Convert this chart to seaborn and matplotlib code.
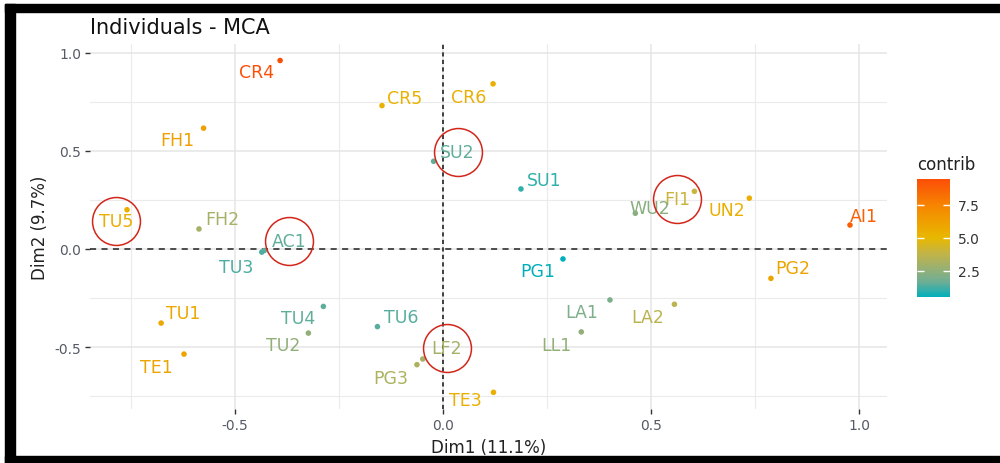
import numpy as np
import pandas as pd
import seaborn as sns
import matplotlib.pyplot as plt
from matplotlib.colors import LinearSegmentedColormap, Normalize
from matplotlib.cm import ScalarMappable
from matplotlib.patches import Rectangle
from matplotlib.transforms import offset_copy

# Individus (MCA) - coordonnées
labels = ["CR4", "CR5", "CR6", "FH1", "SU2", "TU5", "FH2", "SU1", "FI1",
          "WU2", "UN2", "AI1", "AC1", "TU3", "TU1", "TE1", "TU4", "TU2",
          "TU6", "LF2", "PG3", "TE3", "PG1", "PG2", "LA1", "LA2", "LL1"]
dim1 = [-0.392, -0.147, 0.120, -0.576, -0.023, -0.760, -0.587, 0.187, 0.604,
        0.462, 0.736, 0.978, -0.430, -0.436, -0.678, -0.623, -0.288, -0.324,
        -0.158, -0.049, -0.063, 0.121, 0.288, 0.788, 0.401, 0.556, 0.332]
dim2 = [0.961, 0.731, 0.842, 0.616, 0.447, 0.200, 0.102, 0.306, 0.294,
        0.182, 0.259, 0.122, -0.008, -0.016, -0.378, -0.536, -0.293, -0.429,
        -0.396, -0.561, -0.590, -0.731, -0.051, -0.150, -0.260, -0.282, -0.423]
contrib = [9.45, 5.3, 5.4, 6.2, 1.5, 5.5, 3.0, 1.0, 4.0,
           2.3, 5.4, 8.8, 1.5, 1.3, 5.8, 6.0, 1.5, 2.5,
           1.4, 3.0, 3.2, 5.4, 0.5, 6.0, 2.0, 3.6, 2.5]
circled = ["TU5", "SU2", "AC1", "FI1", "LF2"]

# décalage des étiquettes en pixels (dx vers la droite, dy vers le bas), comme ggrepel
label_dx = [-24, 23, -24, -26, 24, -11, 23, 23, -17, 14, -22, 14, 25, -26,
            22.5, -28, -25, -25, 24, 24, -26, -28, -25, 22, -28.5, -27, -25]
label_dy = [12, -8, 13.5, 12, -9, 11, -10, -9, 8, -5, 12, -9, -10, 14.5,
            -10, 12.5, 12, 11.5, -10, -10.5, 13, 8, 12, -10, 12.5, 13, 13]

df = pd.DataFrame({"label": labels, "Dim1": dim1, "Dim2": dim2, "contrib": contrib})

# dégradé #00AFBB -> #E7B800 -> #FC4E07, interpolé à peu près comme ggplot (espace Lab)
cmap = LinearSegmentedColormap.from_list("contrib", [
    (0.0, "#00AFBB"), (0.125, "#6DAE96"), (0.25, "#9BB070"), (0.375, "#C4B444"),
    (0.5, "#E7B800"), (0.75, "#F58B00"), (1.0, "#FC4E07")])
norm = Normalize(vmin=0.5, vmax=9.45)

plt.rcParams['font.family'] = ['DejaVu Sans']
fig = plt.figure(figsize=(10, 4.64), dpi=100)
fig.patch.set_facecolor('white')
ax = fig.add_axes([0.09, 0.1164, 0.797, 0.787])

# grille façon theme_minimal
for v in [-0.75, -0.25, 0.25, 0.75]:
    ax.axvline(v, color='#EBEBEB', lw=0.8, zorder=0)
    ax.axhline(v, color='#EBEBEB', lw=0.8, zorder=0)
for v in [-0.5, 0.0, 0.5, 1.0]:
    ax.axvline(v, color='#E6E6E6', lw=1.1, zorder=0)
    ax.axhline(v, color='#E6E6E6', lw=1.1, zorder=0)
ax.axhline(0, color='#222222', lw=1.1, ls=(0, (4, 3.5)), zorder=1)
ax.axvline(0, color='#222222', lw=1.2, ls=(0, (2.5, 2)), zorder=1)

sns.scatterplot(data=df, x="Dim1", y="Dim2", hue="contrib", palette=cmap,
                hue_norm=norm, s=16, edgecolor='none', legend=False, ax=ax, zorder=3)

ax.set_xlim(-0.849, 1.067)
ax.set_ylim(-0.816, 1.046)
ax.set_xticks([-0.5, 0.0, 0.5, 1.0])
ax.set_yticks([-0.5, 0.0, 0.5, 1.0])
ax.set_xticklabels(["-0.5", "0.0", "0.5", "1.0"])
ax.set_yticklabels(["-0.5", "0.0", "0.5", "1.0"])
ax.tick_params(length=3.5, width=1, color='#333333', labelcolor='#555a66',
               labelsize=10, pad=3)
for s in ax.spines.values():
    s.set_visible(False)
ax.set_xlabel("Dim1 (11.1%)", fontsize=12, color='#222222', labelpad=4)
ax.set_ylabel("Dim2 (9.7%)", fontsize=12, color='#222222', labelpad=4)

# étiquettes (+ cercles rouges autour de certaines)
for lab, x, y, c, dx, dy in zip(labels, dim1, dim2, contrib, label_dx, label_dy):
    ax.annotate(lab, (x, y), xytext=(dx, -dy), textcoords='offset pixels',
                ha='center', va='center', fontsize=12.5, color=cmap(norm(c)), zorder=4)
    if lab in circled:
        tr = offset_copy(ax.transData, fig=fig, x=dx, y=-dy, units='dots')
        ax.plot([x], [y], 'o', ms=34.5, mfc='none', mec='#D2261A', mew=1.1,
                transform=tr, zorder=5, clip_on=False)

fig.text(0.09, 1 - 28 / 464, "Individuals - MCA", fontsize=15, color='#111111',
         ha='left', va='center')

# barre de couleur
cax = fig.add_axes([0.917, 0.3578, 0.033, 0.254])
cb = fig.colorbar(ScalarMappable(norm=norm, cmap=cmap), cax=cax, ticks=[2.5, 5.0, 7.5])
cb.outline.set_visible(False)
cb.set_ticklabels(["2.5", "5.0", "7.5"])
cax.tick_params(axis='y', direction='in', color='white', length=5, width=1,
                left=True, right=True, labelleft=False, labelright=True,
                labelsize=10, labelcolor='#333333', pad=6)
fig.text(0.917, 1 - 165 / 464, "contrib", fontsize=12, color='#222222',
         ha='left', va='center')

# cadre noir de la capture
fig.add_artist(Rectangle((0.005, 0), 0.010, 1 - 5 / 464, transform=fig.transFigure,
                         color='black', zorder=10))
fig.add_artist(Rectangle((0.005, 1 - 13 / 464), 0.995, 8 / 464, transform=fig.transFigure,
                         color='black', zorder=10))
fig.add_artist(Rectangle((0.005, 0), 0.995, 7 / 464, transform=fig.transFigure,
                         color='black', zorder=10))

fig.savefig("out.png", dpi=100)
